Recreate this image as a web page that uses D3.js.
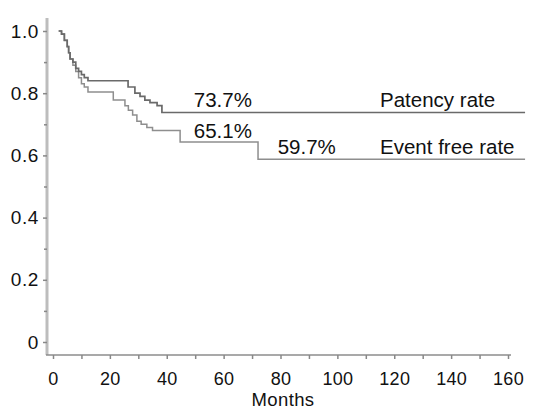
<!DOCTYPE html>
<html>
<head>
<meta charset="utf-8">
<script src="https://cdn.jsdelivr.net/npm/d3@7"></script>
<style>
  html, body { margin: 0; padding: 0; background: #fff; }
  svg { display: block; font-family: "Liberation Sans", Arial, sans-serif; }
</style>
</head>
<body>
<svg id="chart" width="560" height="410"></svg>
<script>
// Kaplan-Meier style curves: patency vs event free.

const patencyMonths = [2, 3, 4, 5, 5.5, 6, 7, 8, 9, 10, 11, 12.3, 26.4, 28.8, 30.6, 32.3, 34.1, 36.6, 38.3, 166];
const patencyValues = [1.0, 0.99, 0.97, 0.95, 0.93, 0.91, 0.90, 0.88, 0.87, 0.86, 0.85, 0.84, 0.82, 0.80, 0.79, 0.778, 0.77, 0.76, 0.738, 0.738];

const eventMonths = [2, 3, 4, 5, 5.5, 6, 7, 8, 9, 10, 11, 12.3, 21.2, 25.3, 26.5, 28, 29.5, 31, 33, 35, 44.7, 72.1, 166];
const eventValues = [1.0, 0.99, 0.97, 0.95, 0.93, 0.91, 0.89, 0.87, 0.85, 0.83, 0.82, 0.804, 0.778, 0.76, 0.745, 0.73, 0.71, 0.70, 0.69, 0.68, 0.643, 0.588, 0.588];

const xTicks = [0, 20, 40, 60, 80, 100, 120, 140, 160];
const xMinor = [10, 30, 50, 70, 90, 110, 130, 150];
const yTicks = [0, 0.2, 0.4, 0.6, 0.8, 1.0];
const yMinor = [0.1, 0.3, 0.5, 0.7, 0.9];

const annotations = [
  { text: "73.7%", month: 49.5, value: 0.756 },
  { text: "Patency rate", month: 115, value: 0.756 },
  { text: "65.1%", month: 49.5, value: 0.655 },
  { text: "59.7%", month: 79, value: 0.606 },
  { text: "Event free rate", month: 115, value: 0.606 }
];

const svg = d3.select("#chart");

const x = d3.scaleLinear().domain([0, 160]).range([53, 508]);
const y = d3.scaleLinear().domain([0, 1]).range([342, 31]);

const axisX = 47;     // y axis line position
const axisY = 355;    // x axis line position

// axes lines
svg.append("line")
  .attr("x1", axisX).attr("x2", axisX)
  .attr("y1", 18).attr("y2", axisY)
  .attr("stroke", "#bdbdbd").attr("stroke-width", 3);

svg.append("line")
  .attr("x1", axisX - 1).attr("x2", 511)
  .attr("y1", axisY).attr("y2", axisY)
  .attr("stroke", "#8c8c8c").attr("stroke-width", 1.5);

// x axis ticks + labels
const gx = svg.append("g").attr("transform", `translate(0,${axisY})`)
  .call(d3.axisBottom(x).tickValues(xTicks).tickSize(4).tickPadding(13).tickFormat(d3.format("d")));
gx.select(".domain").remove();

const gxm = svg.append("g").attr("transform", `translate(0,${axisY})`)
  .call(d3.axisBottom(x).tickValues(xMinor).tickSize(4).tickFormat(""));
gxm.select(".domain").remove();

// y axis ticks + labels
const gy = svg.append("g").attr("transform", `translate(${axisX},0)`)
  .call(d3.axisLeft(y).tickValues(yTicks).tickSize(4).tickPadding(4)
    .tickFormat(d => d === 0 ? "0" : d3.format(".1f")(d)));
gy.select(".domain").remove();

const gym = svg.append("g").attr("transform", `translate(${axisX},0)`)
  .call(d3.axisLeft(y).tickValues(yMinor).tickSize(3).tickFormat(""));
gym.select(".domain").remove();

svg.selectAll(".tick line").attr("stroke", "#888").attr("stroke-width", 1.5);
svg.selectAll(".tick text")
  .attr("fill", "#111")
  .style("font-size", "18px")
  .style("font-family", "'Liberation Sans', Arial, sans-serif");
gx.selectAll(".tick text")
  .style("letter-spacing", "0.3px");
gy.selectAll(".tick text")
  .style("font-size", "19px")
  .style("letter-spacing", "0.6px");

// axis title
svg.append("text")
  .attr("x", 283).attr("y", 406)
  .attr("text-anchor", "middle")
  .attr("fill", "#111")
  .style("font-size", "18.5px")
  .style("letter-spacing", "0.4px")
  .text("Months");

// curves
const line = d3.line()
  .x(d => x(d[0]))
  .y(d => y(d[1]))
  .curve(d3.curveStepAfter);

const eventData = d3.zip(eventMonths, eventValues);
const patencyData = d3.zip(patencyMonths, patencyValues);

svg.append("path")
  .datum(eventData)
  .attr("d", line)
  .attr("fill", "none")
  .attr("stroke", "#8e8e8e")
  .attr("stroke-width", 1.5);

svg.append("path")
  .datum(patencyData)
  .attr("d", line)
  .attr("fill", "none")
  .attr("stroke", "#6a6a6a")
  .attr("stroke-width", 1.7);

// labels
svg.selectAll("text.note")
  .data(annotations)
  .join("text")
    .attr("class", "note")
    .attr("x", d => x(d.month))
    .attr("y", d => y(d.value))
    .attr("fill", "#111")
    .style("font-size", "20.5px")
    .text(d => d.text);
</script>
</body>
</html>
